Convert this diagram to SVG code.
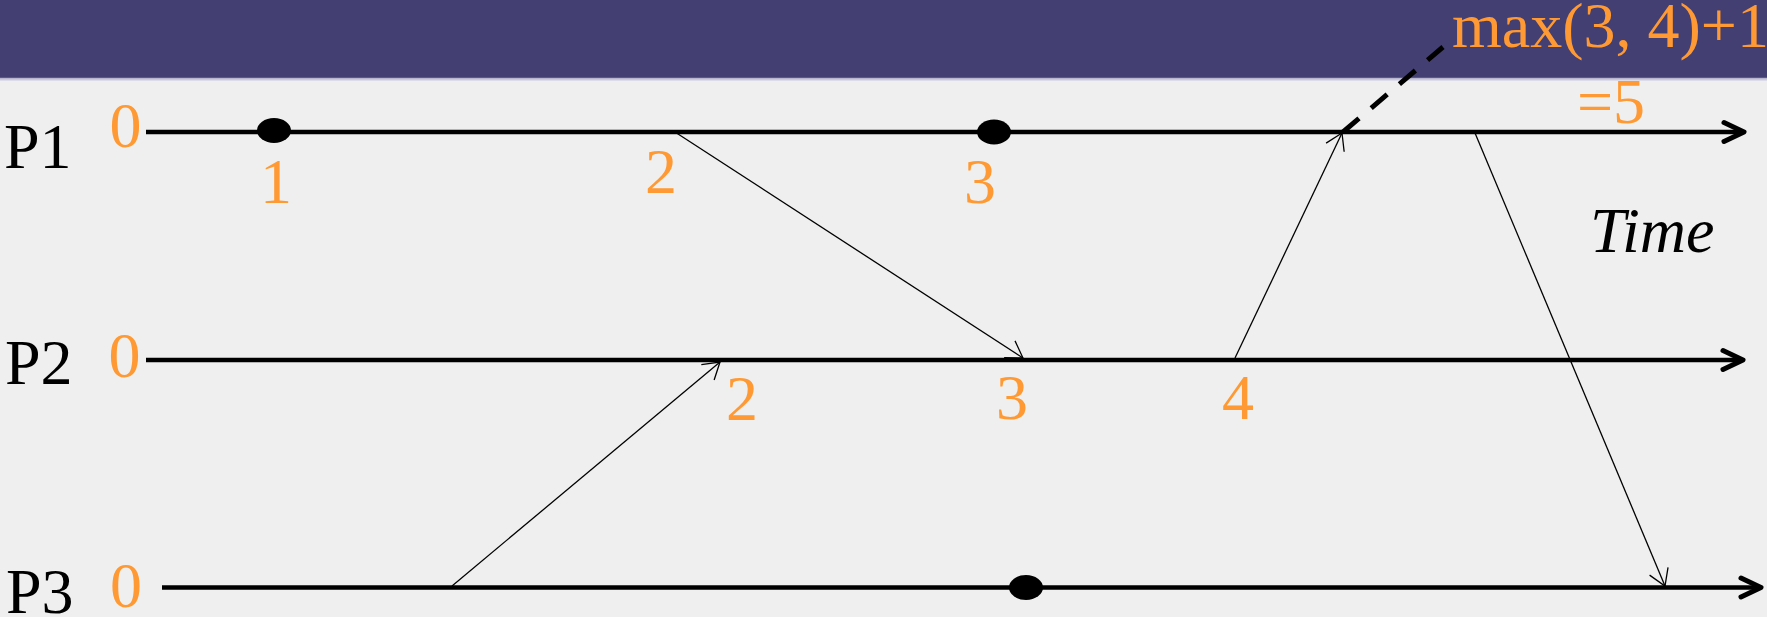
<svg xmlns="http://www.w3.org/2000/svg" width="1767" height="617" viewBox="0 0 1767 617">
  <defs>
    <style>
      .lbl { font-family: "Liberation Serif", "Times New Roman", serif; font-size: 64px; }
      .proc { fill: #000000; }
      .clk { fill: #FF9933; text-anchor: middle; }
      .axis { stroke: #000000; stroke-width: 4.5; fill: none; }
      .tip { stroke: #000000; stroke-width: 5; fill: none; stroke-linecap: round; stroke-linejoin: round; }
      .msg { stroke: #000000; stroke-width: 1.3; fill: none; }
      .event { fill: #000000; }
    </style>
    <marker id="open" markerUnits="userSpaceOnUse" markerWidth="40" markerHeight="40" viewBox="-20 -20 40 40" refX="0" refY="0" orient="auto" overflow="visible">
      <path d="M-16,-10 L0,0 L-16,10" fill="none" stroke="#000000" stroke-width="1.3"/>
    </marker>
  </defs>

  <!-- background and title band -->
  <rect x="0" y="0" width="1767" height="617" fill="#EFEFEF"/>
  <rect x="0" y="0" width="1767" height="77" fill="#433F72"/>
  <rect x="0" y="77" width="1767" height="1.5" fill="#5E5B78"/>
  <rect x="0" y="78.5" width="1767" height="2" fill="#CAC7E6"/>

  <!-- process P1 -->
  <g id="p1">
    <text class="lbl proc" x="4" y="168">P1</text>
    <text class="lbl clk" x="125.5" y="147">0</text>
    <line class="axis" x1="146" y1="132" x2="1741" y2="132"/>
    <path class="tip" d="M1724,122.5 L1744,132 L1724,141.5"/>
    <ellipse class="event" cx="274" cy="130.5" rx="17" ry="12.5"/>
    <ellipse class="event" cx="994" cy="132" rx="17" ry="12.5"/>
    <text class="lbl clk" x="276" y="203">1</text>
    <text class="lbl clk" x="661" y="193">2</text>
    <text class="lbl clk" x="980" y="203">3</text>
  </g>

  <!-- process P2 -->
  <g id="p2">
    <text class="lbl proc" x="5" y="384">P2</text>
    <text class="lbl clk" x="124.5" y="377">0</text>
    <line class="axis" x1="146" y1="360" x2="1741" y2="360"/>
    <path class="tip" d="M1723,350.5 L1743,360 L1723,369.5"/>
    <text class="lbl clk" x="742" y="420">2</text>
    <text class="lbl clk" x="1012" y="419">3</text>
    <text class="lbl clk" x="1238" y="419">4</text>
  </g>

  <!-- process P3 -->
  <g id="p3">
    <text class="lbl proc" x="6" y="613">P3</text>
    <text class="lbl clk" x="126" y="607">0</text>
    <line class="axis" x1="162" y1="587.5" x2="1760" y2="587.5"/>
    <path class="tip" d="M1741,578 L1761,587.5 L1741,597"/>
    <ellipse class="event" cx="1026" cy="587.5" rx="17" ry="12.5"/>
  </g>

  <!-- messages between processes -->
  <g id="messages">
    <line class="msg" x1="676.5" y1="133" x2="1023" y2="358" marker-end="url(#open)"/>
    <line class="msg" x1="452" y1="586" x2="720" y2="362" marker-end="url(#open)"/>
    <line class="msg" x1="1235" y1="358" x2="1342" y2="133" marker-end="url(#open)"/>
    <line class="msg" x1="1475" y1="133" x2="1665" y2="586" marker-end="url(#open)"/>
  </g>

  <!-- callout for the receive event on P1 -->
  <g id="callout">
    <line x1="1343" y1="132" x2="1443" y2="47" stroke="#000000" stroke-width="5" stroke-dasharray="21 16"/>
    <text class="lbl" x="1452" y="47" fill="#FF9933">max(3, 4)+1</text>
    <text class="lbl" x="1577" y="123" fill="#FF9933">=5</text>
  </g>

  <g id="time-label">
    <text class="lbl" x="1590" y="252" font-style="italic" fill="#000000">Time</text>
  </g>
</svg>
